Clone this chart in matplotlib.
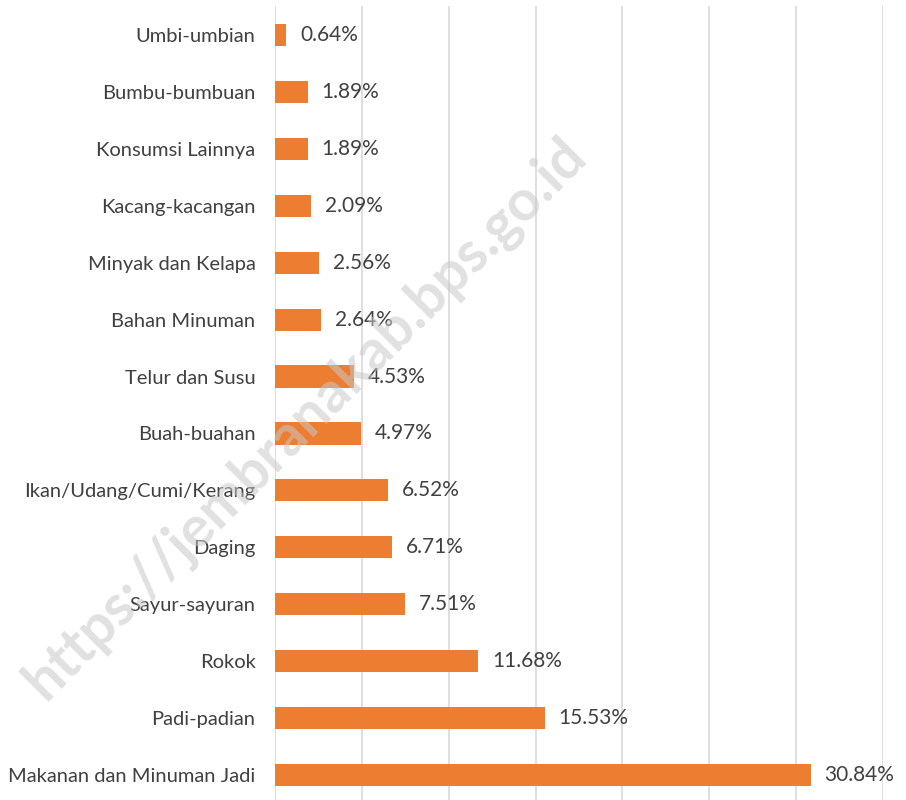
import matplotlib.pyplot as plt
import numpy as np

# Data (urut dari bawah ke atas)
kategori = ["Makanan dan Minuman Jadi", "Padi-padian", "Rokok", "Sayur-sayuran",
            "Daging", "Ikan/Udang/Cumi/Kerang", "Buah-buahan", "Telur dan Susu",
            "Bahan Minuman", "Minyak dan Kelapa", "Kacang-kacangan",
            "Konsumsi Lainnya", "Bumbu-bumbuan", "Umbi-umbian"]
persen = [30.84, 15.53, 11.68, 7.51, 6.71, 6.52, 4.97, 4.53,
          2.64, 2.56, 2.09, 1.89, 1.89, 0.64]

plt.rcParams['font.family'] = ['Lato', 'DejaVu Sans']
teks = "#404040"

fig = plt.figure(figsize=(9.06, 8.0), dpi=100)
ax = fig.add_axes([275 / 906, 0.0, (883 - 275) / 906, 1 - 6 / 800])

y = np.arange(len(kategori))
ax.barh(y, persen, height=0.39, color="#ED7D31", zorder=3)

for yi, v in zip(y, persen):
    ax.annotate(f"{v:.2f}%", (v, yi), xytext=(10, 0), textcoords="offset points",
                va="center", ha="left", fontsize=15, color=teks)

ax.set_xlim(0, 35)
ax.set_ylim(-0.44, len(kategori) - 0.49)
ax.set_xticks(np.arange(0, 36, 5))
ax.set_xticklabels([])
ax.set_yticks(y)
ax.set_yticklabels(kategori, fontsize=14.5, color=teks)
ax.tick_params(axis="both", length=0, pad=14)
ax.grid(axis="x", color="#D9D9D9", linewidth=1.2, zorder=0)
for s in ax.spines.values():
    s.set_visible(False)

# watermark
fig.text(305 / 906, 1 - 418 / 800, "https://jembranakab.bps.go.id", rotation=45,
         ha="center", va="center", fontsize=41, fontweight="bold",
         color="#C8C8C8", alpha=0.55, zorder=10)

fig.savefig("out.png", dpi=100)
